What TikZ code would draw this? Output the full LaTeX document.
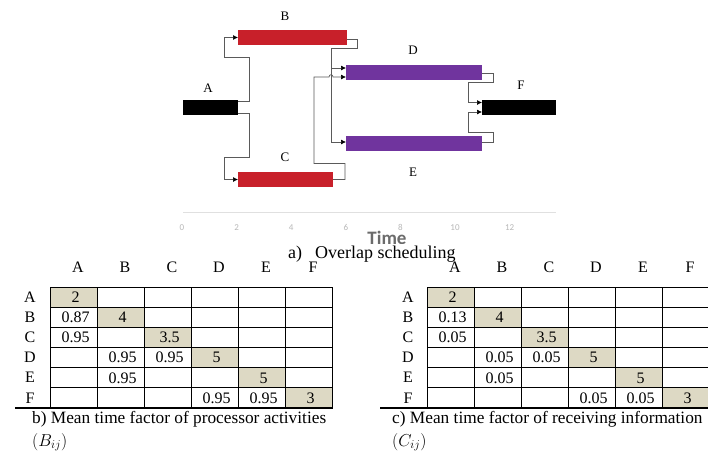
\documentclass[tikz,border=0pt]{standalone}
\usepackage{fontspec}
\setmainfont{Liberation Serif}
\newfontfamily\axisfont{Carlito}
\usetikzlibrary{arrows.meta}
\definecolor{ganttred}{RGB}{200,32,42}
\definecolor{ganttpurple}{RGB}{112,52,158}
\definecolor{cellshade}{RGB}{221,217,196}
\definecolor{connline}{RGB}{90,90,90}
\begin{document}
\begin{tikzpicture}[x=1pt,y=-1pt,
  bar/.style={inner sep=0pt,outer sep=0pt,minimum height=15pt},
  glabel/.style={font=\fontsize{13}{15}\selectfont,inner sep=0pt},
  conn/.style={draw=connline,line width=0.7pt,-{Latex[length=5pt,width=5pt,black]}},
  ticklab/.style={font=\axisfont\fontsize{9}{10}\selectfont,text=black!28,inner sep=0pt},
  tabtext/.style={font=\fontsize{16}{18}\selectfont,inner sep=0pt},
  captext/.style={font=\fontsize{17.3}{20}\selectfont,inner sep=0pt,anchor=west},
  gridline/.style={line width=0.8pt,black},
  baserule/.style={line width=1.1pt,black}]
\useasboundingbox (0,0) rectangle (708,453);
\fill[white] (0,0) rectangle (708,453);

% ---- activity bars ----
\node[bar,fill=black,minimum width=55pt] (A) at (210.5,107.5) {};
\node[bar,fill=ganttred,minimum width=109pt] (B) at (292.5,37.5) {};
\node[bar,fill=ganttred,minimum width=95pt] (C) at (285.5,179.5) {};
\node[bar,fill=ganttpurple,minimum width=136pt] (D) at (414,72.5) {};
\node[bar,fill=ganttpurple,minimum width=136pt] (E) at (414,143.5) {};
\node[bar,fill=black,minimum width=74pt] (F) at (519,107.5) {};

\node[glabel] (lA) at (208,88) {A};
\node[glabel] (lB) at (285,16) {B};
\node[glabel] (lC) at (285,157) {C};
\node[glabel] (lD) at (413,50) {D};
\node[glabel] (lE) at (413,172) {E};
\node[glabel] (lF) at (521,85) {F};

% ---- precedence links ----
\draw[conn] ([yshift=-1pt]A.north east) -- ++(11,0) -- ++(0,-44) -- ++(-25,0) |- (B.west);
\draw[conn] ([yshift=1.5pt]A.south east) -- ++(11,0) -- ++(0,44) -- ++(-25,0) |- (C.west);
\draw[conn] ([yshift=-1.5pt]B.east) -- ++(10,0) -- ++(0,9) -- ++(-26,0) coordinate (bsplit)
  |- ([yshift=4.5pt]D.west);
\draw[conn] (bsplit) |- ([yshift=1.5pt]E.west);
\draw[conn] (C.east) -- ++(12,0) -- ++(0,-16) -| ([xshift=-32pt,yshift=-4.5pt]D.west)
  -- ([xshift=-17pt,yshift=-4.5pt]D.west)
  .. controls +(0,-3) and +(0,-3) .. ([xshift=-13pt,yshift=-4.5pt]D.west)
  -- ([yshift=-4.5pt]D.west);
\draw[conn] ([yshift=-0.5pt]D.east) -- ++(11,0) -- ++(0,9) -- ++(-25,0) |- ([yshift=5pt]F.west);
\draw[conn] ([yshift=1.5pt]E.east) -- ++(11,0) -- ++(0,-10) -- ++(-25,0) |- ([yshift=-4.5pt]F.west);

% ---- time axis ----
\draw[black!12,line width=1pt] (183,212) -- (556,212);
\foreach \v [count=\k from 0] in {0,2,4,6,8,10,12}
  \node[ticklab] (tick\k) at (182+54.6*\k,227.5) {\v};
\begin{scope}
  \clip (330,226) rectangle (450,243.5);
  \node[font=\axisfont\bfseries\fontsize{19}{21}\selectfont,text=black!58,inner sep=0pt,
    text height=11.5pt,text depth=0pt,anchor=base]
    (timelab) at (387,244.5) {Time};
\end{scope}
\node[captext,font=\fontsize{18}{20}\selectfont] (capa) at (288,254) {a)\hspace{13pt}Overlap scheduling};

% ---- factor tables ----
\foreach \tb/\xo/\lx in {b/50/30,c/427/408} {
  \foreach \i in {0,...,5}
    \fill[cellshade] (\xo+47*\i,287+20.17*\i) rectangle ++(47,20.17);
  \foreach \i in {0,...,6}
    \draw[gridline] (\xo,287+20.17*\i) -- (\xo+282,287+20.17*\i);
  \foreach \i in {0,...,6}
    \draw[gridline] (\xo+47*\i,287) -- (\xo+47*\i,408);
  \foreach \L [count=\k from 0] in {A,B,C,D,E,F} {
    \node[tabtext] (\tb-col\k) at (\xo+28+47*\k,267.5) {\L};
    \node[tabtext] (\tb-row\k) at (\lx,297+20.17*\k) {\L};
  }
}
\foreach \r/\c/\val [count=\n] in {0/0/2,1/1/4,2/2/3.5,3/3/5,4/4/5,5/5/3,
    1/0/0.87,2/0/0.95,3/1/0.95,3/2/0.95,4/1/0.95,5/3/0.95,5/4/0.95}
  \node[tabtext] (b-val\n) at (75.5+47*\c,297.2+20.17*\r) {\val};
\foreach \r/\c/\val [count=\n] in {0/0/2,1/1/4,2/2/3.5,3/3/5,4/4/5,5/5/3,
    1/0/0.13,2/0/0.05,3/1/0.05,3/2/0.05,4/1/0.05,5/3/0.05,5/4/0.05}
  \node[tabtext] (c-val\n) at (452.5+47*\c,297.2+20.17*\r) {\val};

\draw[baserule] (15,408) -- (333,408);
\draw[baserule] (380,408) -- (708,408);

\node[captext] (capb) at (32,419) {b) Mean time factor of processor activities};
\node[captext] (capb2) at (32,442) {$(B_{ij})$};
\node[captext] (capc) at (392,419) {c) Mean time factor of receiving information};
\node[captext] (capc2) at (392,442) {$(C_{ij})$};
\end{tikzpicture}
\end{document}
